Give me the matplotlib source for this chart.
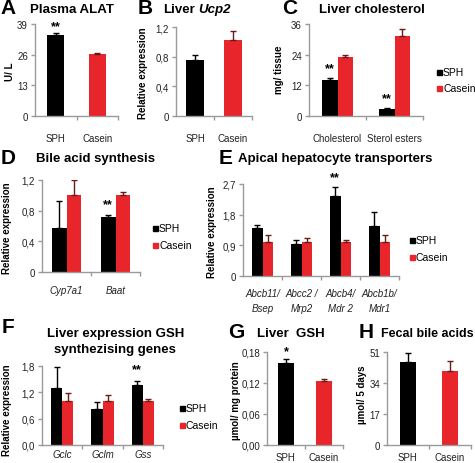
import matplotlib.pyplot as plt
from matplotlib.patches import Rectangle

plt.rcParams['font.family'] = ['Liberation Sans', 'DejaVu Sans']

# ---- data ----
diets = ['SPH', 'Casein']

alat = [34.5, 26.3]
alat_err = [0.6, 0.6]

ucp2 = [0.76, 1.03]
ucp2_err = [0.06, 0.11]

chol_groups = ['Cholesterol', 'Sterol esters']
chol_sph = [14.1, 2.7]
chol_sph_err = [0.8, 0.4]
chol_cas = [23.1, 31.3]
chol_cas_err = [0.8, 2.7]

bile_groups = ['Cyp7a1', 'Baat']
bile_sph = [0.57, 0.72]
bile_sph_err = [0.36, 0.03]
bile_cas = [1.0, 1.0]
bile_cas_err = [0.2, 0.04]

trans_groups = ['Abcb11/\nBsep', 'Abcc2 /\nMrp2', 'Abcb4/\nMdr 2', 'Abcb1b/\nMdr1']
trans_sph = [1.41, 0.94, 2.35, 1.47]
trans_sph_err = [0.09, 0.12, 0.26, 0.41]
trans_cas = [1.0, 1.0, 1.0, 1.0]
trans_cas_err = [0.2, 0.12, 0.06, 0.2]

gsh_genes = ['Gclc', 'Gclm', 'Gss']
gsh_sph = [1.30, 0.82, 1.37]
gsh_sph_err = [0.48, 0.16, 0.09]
gsh_cas = [1.0, 1.0, 1.0]
gsh_cas_err = [0.18, 0.14, 0.05]

liver_gsh = [0.158, 0.124]
liver_gsh_err = [0.008, 0.003]

fecal = [45.5, 40.6]
fecal_err = [5.0, 5.5]

BLACK = '#000000'
RED = '#E8252A'
GREY = '#9a9a9a'
W, H = 475, 464

fig = plt.figure(figsize=(W / 100, H / 100), dpi=100)


def box(l, r, t, b):
    return [l / W, 1 - b / H, (r - l) / W, (b - t) / H]


def ftext(x, y, s, **kw):
    fig.text(x / W, 1 - y / H, s, **kw)


def style(ax, ymax, yticks, ylabels, ngroups, xlabels, xpad=9, italic=False):
    for s in ['top', 'right']:
        ax.spines[s].set_visible(False)
    for s in ['left', 'bottom']:
        ax.spines[s].set_color(GREY)
        ax.spines[s].set_linewidth(1.0)
    ax.set_ylim(0, ymax)
    ax.set_yticks(yticks)
    ax.set_yticklabels(ylabels)
    ax.tick_params(axis='y', direction='out', length=3, width=1, color=GREY,
                   labelsize=7, pad=2, labelcolor='#222222')
    ax.set_xlim(-0.5, ngroups - 0.5)
    ax.set_xticks([i + 0.5 for i in range(ngroups)])
    ax.set_xticklabels([])
    ax.tick_params(axis='x', which='major', direction='out', length=3,
                   width=1, color=GREY)
    ax.set_xticks(list(range(ngroups)), minor=True)
    ax.set_xticklabels(xlabels, minor=True, fontsize=7,
                       style='italic' if italic else 'normal',
                       linespacing=1.6, color='#222222')
    ax.tick_params(axis='x', which='minor', length=0, pad=xpad)


def single(ax, vals, errs, width):
    for i, (v, e, c) in enumerate(zip(vals, errs, [BLACK, RED])):
        ax.bar(i, v, width=width, color=c, zorder=2)
        ax.errorbar(i, v, yerr=[[0], [e]], fmt='none', ecolor=c if c == BLACK else '#6b1a1a',
                    elinewidth=1, capsize=2.5, capthick=1, zorder=3)


def grouped(ax, sph, sph_err, cas, cas_err, width):
    for i in range(len(sph)):
        ax.bar(i - width / 2, sph[i], width=width, color=BLACK, zorder=2)
        ax.bar(i + width / 2, cas[i], width=width, color=RED, zorder=2)
        ax.errorbar(i - width / 2, sph[i], yerr=[[0], [sph_err[i]]], fmt='none',
                    ecolor=BLACK, elinewidth=1, capsize=2.5, capthick=1, zorder=3)
        ax.errorbar(i + width / 2, cas[i], yerr=[[0], [cas_err[i]]], fmt='none',
                    ecolor='#6b1a1a', elinewidth=1, capsize=2.5, capthick=1, zorder=3)


def stars(ax, x, y, s='**', off=8):
    ax.annotate(s, (x, y), xytext=(0, off), textcoords='offset pixels',
                ha='center', va='center', fontsize=9, fontweight='bold')


def legend(x, y1, y2):
    for y, c, lab in [(y1, BLACK, 'SPH'), (y2, RED, 'Casein')]:
        fig.add_artist(Rectangle((x / W, 1 - (y + 2.5) / H), 5 / W, 5 / H,
                                 transform=fig.transFigure, color=c))
        ftext(x + 6, y, lab, fontsize=7.5, va='center', ha='left')


title_kw = dict(fontsize=9.5, fontweight='bold', va='center',
                family=['Liberation Sans Narrow', 'Liberation Sans'])
letter_kw = dict(fontsize=15, fontweight='bold', va='center', ha='center')
ylab_kw = dict(fontsize=7, fontweight='bold', rotation=90, va='center', ha='center')

# ---- A ----
ax = fig.add_axes(box(35, 118, 25, 117))
single(ax, alat, alat_err, 0.42)
style(ax, 39, [0, 13, 26, 39], ['0', '13', '26', '39'], 2, diets, xpad=12)
stars(ax, 0 - 0, alat[0] + alat_err[0], off=7)
ftext(8, 9, 'A', **letter_kw)
ftext(72, 10, 'Plasma ALAT', ha='center', **title_kw)
ftext(10, 72, 'U/ L', **ylab_kw)

# ---- B ----
ax = fig.add_axes(box(176, 252, 28, 117))
single(ax, ucp2, ucp2_err, 0.48)
style(ax, 1.2, [0, 0.4, 0.8, 1.2], ['0', '0,4', '0,8', '1,2'], 2, diets, xpad=12)
ftext(145, 9, 'B', **letter_kw)
ftext(163, 10, 'Liver', ha='left', **title_kw)
ftext(198, 10, 'Ucp2', ha='left', style='italic', **title_kw)
ftext(143, 73, 'Relative expression', **ylab_kw)

# ---- C ----
ax = fig.add_axes(box(309, 423, 25, 117))
grouped(ax, chol_sph, chol_sph_err, chol_cas, chol_cas_err, 0.28)
style(ax, 36, [0, 12, 24, 36], ['0', '12', '24', '36'], 2, chol_groups, xpad=12)
for i in range(2):
    stars(ax, i - 0.14, chol_sph[i] + chol_sph_err[i], off=10)
ftext(290, 9, 'C', **letter_kw)
ftext(372, 10, 'Liver cholesterol', ha='center', **title_kw)
ftext(279, 70, 'mg/ tissue', **ylab_kw)
legend(437, 73, 89)

# ---- D ----
ax = fig.add_axes(box(42, 140, 181, 273))
grouped(ax, bile_sph, bile_sph_err, bile_cas, bile_cas_err, 0.3)
style(ax, 1.2, [0, 0.4, 0.8, 1.2], ['0', '0,4', '0,8', '1,2'], 2, bile_groups,
      xpad=9, italic=True)
stars(ax, 1 - 0.15, bile_sph[1] + bile_sph_err[1], off=10)
ftext(8, 159, 'D', **letter_kw)
ftext(96, 159, 'Bile acid synthesis', ha='center', **title_kw)
ftext(7, 228, 'Relative expression', **ylab_kw)
legend(153, 229, 246)

# ---- E ----
ax = fig.add_axes(box(243, 399, 185, 277))
grouped(ax, trans_sph, trans_sph_err, trans_cas, trans_cas_err, 0.28)
style(ax, 2.7, [0, 0.9, 1.8, 2.7], ['0', '0,9', '1,8', '2,7'], 4, trans_groups,
      xpad=9, italic=True)
stars(ax, 2 - 0.14, trans_sph[2] + trans_sph_err[2], off=10)
ftext(226, 159, 'E', **letter_kw)
ftext(335, 159, 'Apical hepatocyte transporters', ha='center', **title_kw)
ftext(212, 232, 'Relative expression', **ylab_kw)
legend(410, 241, 258)

# ---- F ----
ax = fig.add_axes(box(42, 163, 367, 446))
grouped(ax, gsh_sph, gsh_sph_err, gsh_cas, gsh_cas_err, 0.28)
style(ax, 1.8, [0, 0.6, 1.2, 1.8], ['0,0', '0,6', '1,2', '1,8'], 3, gsh_genes,
      xpad=3, italic=True)
stars(ax, 2 - 0.14, gsh_sph[2] + gsh_sph_err[2], off=12)
ftext(8, 328, 'F', **letter_kw)
ftext(116, 334, 'Liver expression GSH', ha='center', **title_kw)
ftext(115, 350, 'synthezising genes', ha='center', **title_kw)
ftext(7, 410, 'Relative expression', **ylab_kw)
legend(180, 409, 426)

# ---- G ----
ax = fig.add_axes(box(267, 343, 353, 446))
single(ax, liver_gsh, liver_gsh_err, 0.4)
style(ax, 0.18, [0, 0.06, 0.12, 0.18], ['0,00', '0,06', '0,12', '0,18'], 2, diets,
      xpad=5)
stars(ax, 0, liver_gsh[0] + liver_gsh_err[0], s='*', off=8)
ftext(236, 333, 'G', **letter_kw)
ftext(257, 334, 'Liver  GSH', ha='left', **title_kw)
ftext(236, 401, 'µmol/ mg protein', **ylab_kw)

# ---- H ----
ax = fig.add_axes(box(387, 471, 353, 446))
single(ax, fecal, fecal_err, 0.4)
style(ax, 51, [0, 17, 34, 51], ['0', '17', '34', '51'], 2, diets, xpad=5)
ftext(366, 332, 'H', **letter_kw)
h_title = dict(title_kw, fontsize=9)
ftext(474, 334, 'Fecal bile acids', ha='right', **h_title)
ftext(362, 395, 'µmol/ 5 days', **ylab_kw)

fig.savefig('out.png', dpi=100)
